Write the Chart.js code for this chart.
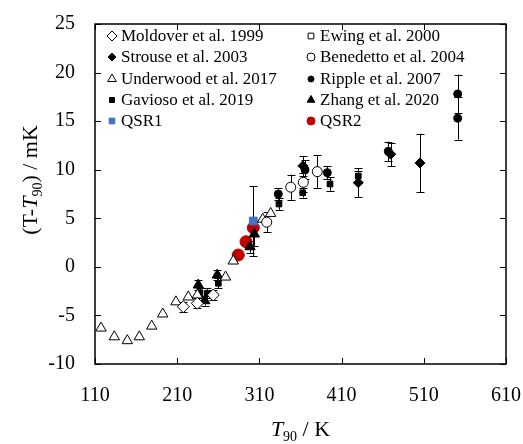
<!DOCTYPE html>
<html>
<head>
<meta charset="utf-8">
<script src="https://cdn.jsdelivr.net/npm/chart.js@4.4.1/dist/chart.umd.min.js"></script>
<style>
  html, body { margin: 0; padding: 0; background: #fff; }
  #wrap { width: 523px; height: 444px; }
</style>
</head>
<body>
<div id="wrap"><canvas id="c" width="523" height="444"></canvas></div>
<script>
// ---- Data (T90 in K, T-T90 in mK, errors in mK) ----
const xTicks = [110, 210, 310, 410, 510, 610];
const yTicks = [-10, -5, 0, 5, 10, 15, 20, 25];

const moldoverT = [217.4, 234.5, 253.9];
const moldoverY = [-4.1, -3.75, -2.9];
const moldoverE = [0.5, 0.5, 0.5];

const ewingT = [];
const ewingY = [];
const ewingE = [];

const strouseT = [363.0, 430.3, 469.7, 505.4];
const strouseY = [10.4, 8.66, 11.6, 10.7];
const strouseE = [1.0, 1.5, 1.2, 3.0];

const benedettoT = [318.9, 348.1, 363.4, 380.4];
const benedettoY = [4.6, 8.2, 8.7, 9.8];
const benedettoE = [1.0, 1.3, 1.0, 1.7];

const underwoodT = [117.3, 133.5, 149.3, 163.9, 179.0, 192.4, 208.5, 223.5, 234.5, 268.8, 278.2, 314.0, 323.7];
const underwoodY = [-6.3, -7.2, -7.6, -7.2, -6.1, -4.85, -3.6, -3.1, -2.9, -1.05, 0.6, 4.9, 5.5];
const underwoodE = [0, 0, 0, 0, 0, 0, 0, 0, 0, 0, 0, 0, 0];

const rippleT = [333.0, 365.5, 392.6, 466.8, 551.2, 551.2];
const rippleY = [7.5, 10.0, 9.7, 11.9, 17.8, 15.3];
const rippleE = [0.6, 1.0, 0.7, 1.0, 2.0, 2.2];

const gaviosoT = [237.7, 246.6, 260.0, 333.8, 362.7, 395.9, 430.3];
const gaviosoY = [-2.66, -2.72, -1.69, 6.47, 7.63, 8.53, 9.35];
const gaviosoE = [0.5, 0.5, 0.5, 0.6, 0.5, 0.7, 0.5];

const zhangT = [235.7, 243.5, 258.8, 298.6, 303.8];
const zhangY = [-1.87, -3.48, -0.84, 2.07, 3.38];
const zhangE = [0.5, 0.5, 0.5, 0.6, 1.2];

const qsr1T = [302.6];
const qsr1Y = [4.72];
const qsr1E = [3.6];

const qsr2T = [284.3, 293.7, 302.6];
const qsr2Y = [1.22, 2.59, 4.03];
const qsr2E = [0.3, 0.3, 0.3];

function pts(T, Y) { return T.map((t, i) => ({ x: t, y: Y[i] })); }

const SERIF = "'Liberation Serif', 'DejaVu Serif', serif";

function ds(label, T, Y, E, style, fill, stroke, radius, legendRadius) {
  return {
    label, data: pts(T, Y), errors: E,
    pointStyle: style, backgroundColor: fill, borderColor: stroke,
    pointRadius: radius, pointHoverRadius: radius, borderWidth: 1,
    legendRadius, showLine: false
  };
}

const datasets = [
  ds('Moldover et al. 1999', moldoverT, moldoverY, moldoverE, 'rectRot', '#fff', '#000', 6, 5),
  ds('Ewing et al. 2000', ewingT, ewingY, ewingE, 'rect', '#fff', '#000', 5, 4),
  ds('Strouse et al. 2003', strouseT, strouseY, strouseE, 'rectRot', '#000', '#000', 5, 4),
  ds('Benedetto et al. 2004', benedettoT, benedettoY, benedettoE, 'circle', '#fff', '#000', 5, 4),
  ds('Underwood et al. 2017', underwoodT, underwoodY, underwoodE, 'triangle', '#fff', '#000', 6, 5),
  ds('Ripple et al. 2007', rippleT, rippleY, rippleE, 'circle', '#000', '#000', 4, 3),
  ds('Gavioso et al. 2019', gaviosoT, gaviosoY, gaviosoE, 'rect', '#000', '#000', 4, 3.5),
  ds('Zhang et al. 2020', zhangT, zhangY, zhangE, 'triangle', '#000', '#000', 6, 4.5),
  ds('QSR1', qsr1T, qsr1Y, qsr1E, 'rect', '#4472C4', '#4472C4', 5.5, 4),
  ds('QSR2', qsr2T, qsr2Y, qsr2E, 'circle', '#C00000', '#C00000', 6, 4)
];

// Error bars drawn through the chart scales
const errorBars = {
  id: 'errorBars',
  beforeDatasetsDraw(chart) {
    const ctx = chart.ctx, xs = chart.scales.x, ys = chart.scales.y;
    ctx.save();
    ctx.strokeStyle = '#000';
    ctx.lineWidth = 1;
    chart.data.datasets.forEach(d => {
      d.data.forEach((p, j) => {
        const e = d.errors ? d.errors[j] : 0;
        if (!e) return;
        const x = Math.round(xs.getPixelForValue(p.x)) + 0.5;
        const y1 = ys.getPixelForValue(p.y + e);
        const y2 = ys.getPixelForValue(p.y - e);
        ctx.beginPath();
        ctx.moveTo(x, y1); ctx.lineTo(x, y2);
        ctx.moveTo(x - 4, Math.round(y1) + 0.5); ctx.lineTo(x + 4, Math.round(y1) + 0.5);
        ctx.moveTo(x - 4, Math.round(y2) + 0.5); ctx.lineTo(x + 4, Math.round(y2) + 0.5);
        ctx.stroke();
      });
    });
    ctx.restore();
  }
};

// Frame, inward ticks, axis titles and legend
const frame = {
  id: 'frame',
  afterDraw(chart) {
    const ctx = chart.ctx, a = chart.chartArea, xs = chart.scales.x, ys = chart.scales.y;
    ctx.save();
    ctx.strokeStyle = '#000';
    ctx.lineWidth = 1.5;
    ctx.strokeRect(a.left, a.top, a.right - a.left, a.bottom - a.top);
    ctx.lineWidth = 1;
    ctx.beginPath();
    xTicks.forEach(v => {
      const x = Math.round(xs.getPixelForValue(v)) + 0.5;
      ctx.moveTo(x, a.bottom); ctx.lineTo(x, a.bottom - 6);
      ctx.moveTo(x, a.top); ctx.lineTo(x, a.top + 6);
    });
    yTicks.forEach(v => {
      const y = Math.round(ys.getPixelForValue(v)) + 0.5;
      ctx.moveTo(a.left, y); ctx.lineTo(a.left + 6, y);
      ctx.moveTo(a.right, y); ctx.lineTo(a.right - 6, y);
    });
    ctx.stroke();

    // Axis titles
    ctx.fillStyle = '#000';
    ctx.textBaseline = 'alphabetic';
    const big = 22, sub = 14;
    // x title: T90 / K
    const xParts = [
      { t: 'T', f: 'italic ' + big + 'px ' + SERIF, dy: 0 },
      { t: '90', f: sub + 'px ' + SERIF, dy: 5 },
      { t: ' / K', f: big + 'px ' + SERIF, dy: 0 }
    ];
    let w = 0;
    xParts.forEach(p => { ctx.font = p.f; w += ctx.measureText(p.t).width; });
    let cx = (a.left + a.right) / 2 - w / 2;
    const by = 436;
    xParts.forEach(p => { ctx.font = p.f; ctx.fillText(p.t, cx, by + p.dy); cx += ctx.measureText(p.t).width; });

    // y title: (T-T90) / mK
    const yParts = [
      { t: '(T-', f: big + 'px ' + SERIF, dy: 0 },
      { t: 'T', f: 'italic ' + big + 'px ' + SERIF, dy: 0 },
      { t: '90', f: sub + 'px ' + SERIF, dy: 5 },
      { t: ') / mK', f: big + 'px ' + SERIF, dy: 0 }
    ];
    w = 0;
    yParts.forEach(p => { ctx.font = p.f; w += ctx.measureText(p.t).width; });
    ctx.translate(37, 180);
    ctx.rotate(-Math.PI / 2);
    cx = -w / 2;
    yParts.forEach(p => { ctx.font = p.f; ctx.fillText(p.t, cx, p.dy); cx += ctx.measureText(p.t).width; });
    ctx.setTransform(1, 0, 0, 1, 0, 0);

    // Legend, two columns inside the plot
    const cols = [112, 311];
    const rows = [36, 57, 79, 100, 121];
    const order = [0, 2, 4, 6, 8, 1, 3, 5, 7, 9];
    ctx.font = '17px ' + SERIF;
    ctx.textBaseline = 'middle';
    order.forEach((di, k) => {
      const d = chart.data.datasets[di];
      const col = k < 5 ? 0 : 1, row = k % 5;
      const mx = cols[col], my = rows[row];
      ctx.fillStyle = d.backgroundColor;
      ctx.strokeStyle = d.borderColor;
      ctx.lineWidth = 1;
      Chart.helpers.drawPoint(ctx, { pointStyle: d.pointStyle, radius: d.legendRadius, borderWidth: 1, rotation: 0 }, mx, my);
      ctx.fillStyle = '#000';
      ctx.fillText(d.label, mx + 9, my + 1);
    });
    ctx.restore();
  }
};

function noPad(s) { s.paddingLeft = 0; s.paddingRight = 0; s.paddingTop = 0; s.paddingBottom = 0; }

new Chart(document.getElementById('c'), {
  type: 'scatter',
  data: { datasets },
  options: {
    responsive: false,
    animation: false,
    events: [],
    layout: { padding: { top: 24, right: 17, left: 0, bottom: 0 } },
    plugins: { legend: { display: false }, tooltip: { enabled: false } },
    scales: {
      x: {
        type: 'linear', min: 110, max: 610,
        afterBuildTicks: s => { s.ticks = xTicks.map(v => ({ value: v })); },
        afterFit: s => { s.height = 80; noPad(s); },
        grid: { display: false, drawTicks: false },
        border: { display: false },
        ticks: { color: '#000', font: { family: SERIF, size: 20 }, padding: 20, maxRotation: 0 }
      },
      y: {
        type: 'linear', min: -10, max: 25,
        afterBuildTicks: s => { s.ticks = yTicks.map(v => ({ value: v })); },
        afterFit: s => { s.width = 95; noPad(s); },
        grid: { display: false, drawTicks: false },
        border: { display: false },
        ticks: { color: '#000', font: { family: SERIF, size: 20 }, padding: 20 }
      }
    }
  },
  plugins: [errorBars, frame]
});
</script>
</body>
</html>
